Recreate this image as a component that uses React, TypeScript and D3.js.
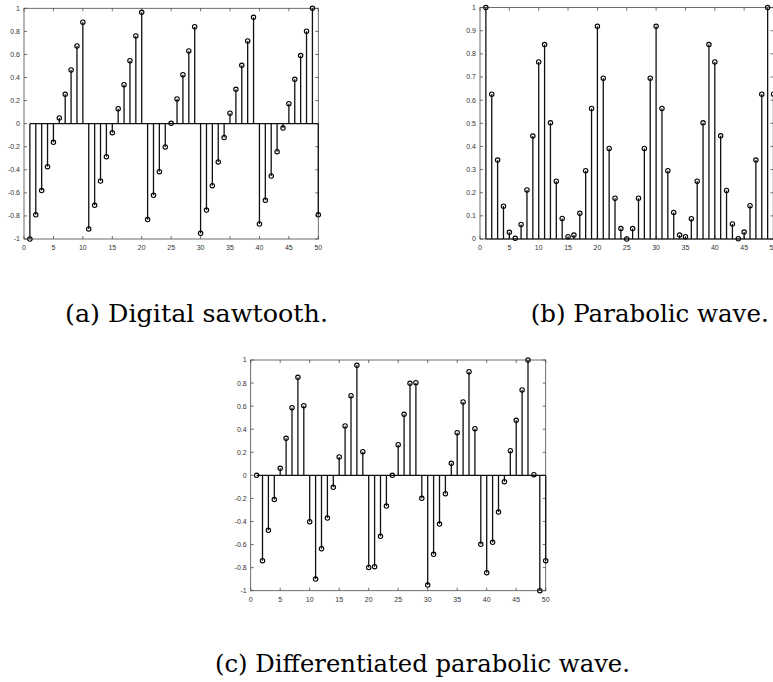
import React from "react";
import * as d3 from "d3";

const sawtooth = [
  -1, -0.79, -0.58, -0.373, -0.162, 0.049, 0.254, 0.465, 0.673, 0.88,
  -0.913, -0.708, -0.497, -0.286, -0.078, 0.13, 0.338, 0.546, 0.76, 0.965,
  -0.832, -0.621, -0.416, -0.202, 0.003, 0.214, 0.425, 0.63, 0.841, -0.951,
  -0.749, -0.538, -0.332, -0.121, 0.09, 0.298, 0.506, 0.717, 0.922, -0.87,
  -0.665, -0.454, -0.243, -0.038, 0.173, 0.384, 0.59, 0.801, 1.0, -0.79,
];

const parabolic = [
  1.0, 0.626, 0.341, 0.142, 0.029, 0.003, 0.063, 0.212, 0.445, 0.765,
  0.84, 0.502, 0.25, 0.089, 0.01, 0.017, 0.111, 0.295, 0.564, 0.919,
  0.695, 0.391, 0.176, 0.045, 0.0, 0.045, 0.176, 0.391, 0.695, 0.919,
  0.564, 0.295, 0.115, 0.017, 0.01, 0.088, 0.25, 0.502, 0.84, 0.765,
  0.446, 0.21, 0.065, 0.001, 0.03, 0.144, 0.341, 0.626, 1.0, 0.626,
];

const diffParabolic = [
  0.0, -0.74, -0.477, -0.21, 0.061, 0.321, 0.587, 0.85, 0.604, -0.402,
  -0.899, -0.636, -0.37, -0.104, 0.159, 0.428, 0.691, 0.954, 0.205, -0.798,
  -0.792, -0.529, -0.266, 0.0, 0.266, 0.529, 0.798, 0.803, -0.199, -0.951,
  -0.685, -0.422, -0.159, 0.104, 0.37, 0.636, 0.899, 0.405, -0.598, -0.844,
  -0.581, -0.318, -0.055, 0.214, 0.477, 0.74, 1.0, 0.006, -1.0, -0.74,
];

const xTicks = [0, 5, 10, 15, 20, 25, 30, 35, 40, 45, 50];
const yTicksSigned = [-1, -0.8, -0.6, -0.4, -0.2, 0, 0.2, 0.4, 0.6, 0.8, 1];
const yTicksUnit = [0, 0.1, 0.2, 0.3, 0.4, 0.5, 0.6, 0.7, 0.8, 0.9, 1];

const captionA = "(a) Digital sawtooth.";
const captionB = "(b) Parabolic wave.";
const captionC = "(c) Differentiated parabolic wave.";

type PanelProps = {
  data: number[];
  yDomain: [number, number];
  yTicks: number[];
  left: number;
  right: number;
  top: number;
  bottom: number;
};

const fmt = (v: number) => {
  const s = d3.format("~g")(+v.toFixed(2));
  return s.replace("−", "-");
};

function StemPanel({ data, yDomain, yTicks, left, right, top, bottom }: PanelProps) {
  const x = d3.scaleLinear().domain([0, 50]).range([left, right]);
  const y = d3.scaleLinear().domain(yDomain).range([bottom, top]);
  const tl = 3;
  const axisColor = "#4a4a4a";
  const font = "Liberation Sans, Arial, sans-serif";
  const idx = data.map((_, i) => i + 1);
  return (
    <g>
      <rect x={left} y={top} width={right - left} height={bottom - top} fill="none" stroke={axisColor} strokeWidth={0.8} />
      {xTicks.map((t) => (
        <g key={"x" + t}>
          <line x1={x(t)} x2={x(t)} y1={bottom} y2={bottom - tl} stroke={axisColor} strokeWidth={0.8} />
          <line x1={x(t)} x2={x(t)} y1={top} y2={top + tl} stroke={axisColor} strokeWidth={0.8} />
          <text x={x(t)} y={bottom + 11} fontSize={7} fontFamily={font} fill="#333" textAnchor="middle">
            {t}
          </text>
        </g>
      ))}
      {yTicks.map((t) => (
        <g key={"y" + t}>
          <line x1={left} x2={left + tl} y1={y(t)} y2={y(t)} stroke={axisColor} strokeWidth={0.8} />
          <line x1={right} x2={right - tl} y1={y(t)} y2={y(t)} stroke={axisColor} strokeWidth={0.8} />
          <text x={left - 4} y={y(t)} dy="0.35em" fontSize={7} fontFamily={font} fill="#333" textAnchor="end">
            {fmt(t)}
          </text>
        </g>
      ))}
      <line x1={x(1)} x2={x(50)} y1={y(0)} y2={y(0)} stroke="#111" strokeWidth={1.2} />
      {data.map((v, i) => (
        <line key={"s" + i} x1={x(idx[i])} x2={x(idx[i])} y1={y(0)} y2={y(v)} stroke="#111" strokeWidth={1.3} />
      ))}
      {data.map((v, i) => (
        <circle key={"c" + i} cx={x(idx[i])} cy={y(v)} r={2.2} fill="none" stroke="#000" strokeWidth={1.1} />
      ))}
    </g>
  );
}

export default function App() {
  const serif = "DejaVu Serif";
  return (
    <svg
      width={773}
      height={682}
      style={{ position: "absolute", left: 0, top: 0, background: "#fff" }}
    >
      <rect width={773} height={682} fill="#fff" />
      <StemPanel data={sawtooth} yDomain={[-1, 1]} yTicks={yTicksSigned} left={24} right={318.3} top={8.3} bottom={239} />
      <StemPanel data={parabolic} yDomain={[0, 1]} yTicks={yTicksUnit} left={480} right={773.5} top={7.6} bottom={239} />
      <StemPanel data={diffParabolic} yDomain={[-1, 1]} yTicks={yTicksSigned} left={250.7} right={545.7} top={360} bottom={590.7} />
      <text x={65} y={321.5} fontSize={25} fontFamily={serif} fill="#000" textLength={263} lengthAdjust="spacingAndGlyphs">
        {captionA}
      </text>
      <text x={530.7} y={321.5} fontSize={25} fontFamily={serif} fill="#000" textLength={238} lengthAdjust="spacingAndGlyphs">
        {captionB}
      </text>
      <text x={215} y={671.5} fontSize={25} fontFamily={serif} fill="#000" textLength={415} lengthAdjust="spacingAndGlyphs">
        {captionC}
      </text>
    </svg>
  );
}
